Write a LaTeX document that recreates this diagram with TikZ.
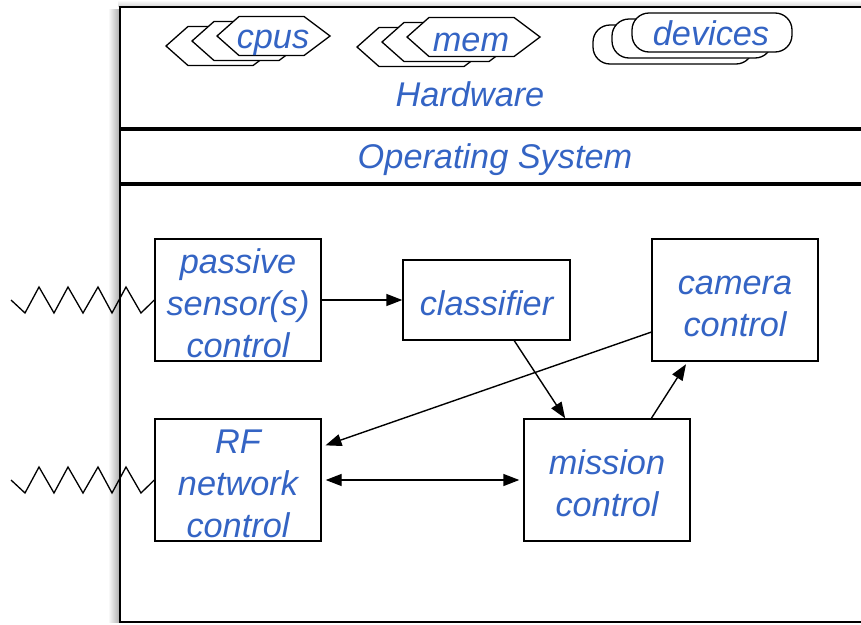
\documentclass[tikz,border=0pt]{standalone}
\usepackage{fontspec}
\setmainfont{Liberation Sans}
\usetikzlibrary{arrows.meta,calc}

\definecolor{labelblue}{RGB}{52,100,196}

% strut on the first line of a box label, so labels sit on the font's full ascent
\newcommand{\ls}{\rule{0pt}{0.9em}}

\tikzset{
  lbl/.style={text=labelblue, font=\fontsize{34.3}{42}\selectfont\itshape, inner sep=0pt},
  blk/.style={lbl, draw=black, line width=1.4pt, fill=white, align=center,
              minimum width=166pt, minimum height=122pt},
  tip/.tip={Triangle[length=16pt,width=12pt]},
  conn/.style={line width=1.4pt, -tip},
  biconn/.style={line width=1.4pt, tip-tip},
  wave/.style={line width=1.3pt, line join=miter},
  frameline/.style={line width=2pt},
  layerline/.style={line width=3.2pt},
  chip/.style={draw=black, fill=white, line width=1.3pt, line join=miter},
}

% elongated hexagon: left tip x, centre y, total width
\newcommand{\hexchip}[3]{%
  \filldraw[chip] (#1,#2) -- ++(22,-19.5) -- ++(#3-48,0) -- ++(26,19.5)
    -- ++(-26,19.5) -- ++(-#3+48,0) -- cycle;}

\begin{document}
\begin{tikzpicture}[x=1pt,y=-1pt]
  \useasboundingbox (0,0) rectangle (861,624);

  % soft shadow of the system frame
  \shade[left color=white, right color=black!30] (108,9) rectangle (119,622);
  \shade[top color=white, bottom color=black!15] (118,0) rectangle (861,6);

  % system frame and layers
  \draw[frameline] (861,7) -- (120,7) -- (120,622) -- (861,622);
  \draw[layerline] (120,129) -- (861,129);
  \draw[layerline] (120,184) -- (861,184);

  % hardware resources
  \hexchip{166}{46}{113}
  \hexchip{192}{41}{113}
  \hexchip{217}{36}{113}
  \node[lbl, anchor=base] (cpus) at (273,48) {cpus};

  \hexchip{357}{47}{133}
  \hexchip{382}{42}{133}
  \hexchip{407}{37}{133}
  \node[lbl, anchor=base] (mem) at (471,51) {mem};

  \filldraw[chip, rounded corners=17pt] (593,25) rectangle (753,64);
  \filldraw[chip, rounded corners=17pt] (612,19) rectangle (772,58);
  \filldraw[chip, rounded corners=17pt] (632,13) rectangle (792,52);
  \node[lbl, anchor=base] (devices) at (711,45) {devices};

  \node[lbl, anchor=base] (hw) at (470,106) {Hardware};
  \node[lbl, anchor=base] (os) at (495,168) {Operating System};

  % application components
  \node[blk] (passive) at (238,300) {\ls passive\\sensor(s)\\control};
  \node[blk, minimum width=167pt, minimum height=80pt] (classifier) at (486.5,300) {\ls classifier};
  \node[blk] (camera) at (735,300) {\ls camera\\control};
  \node[blk] (rf) at (238,480) {\ls RF\\network\\control};
  \node[blk] (mission) at (607,480) {\ls mission\\control};

  % connections
  \draw[conn] (passive) -- (classifier);
  \draw[conn] ($(classifier.south west)!0.665!(classifier.south east)$)
           -- ($(mission.north west)!0.25!(mission.north east)$);
  \draw[conn, shorten >=3pt] ($(mission.north west)!0.765!(mission.north east)$)
           -- ($(camera.south west)!0.217!(camera.south east)$);
  \draw[conn, shorten >=4pt] ($(camera.north west)!0.76!(camera.south west)$)
           -- ($(rf.north east)!0.23!(rf.south east)$);
  \draw[biconn, shorten >=4pt, shorten <=4pt] (rf) -- (mission);

  % external links
  \coordinate (sensorlink) at (11,300);
  \coordinate (radiolink) at (11,480);
  \draw[wave] (sensorlink) -- ++(14,13) -- ++(14,-26) -- ++(15,26) -- ++(14,-26)
    -- ++(15,26) -- ++(15,-26) -- ++(14,26) -- ++(14,-26) -- ++(15,26) -- (passive.west);
  \draw[wave] (radiolink) -- ++(14,13) -- ++(14,-26) -- ++(15,26) -- ++(14,-26)
    -- ++(15,26) -- ++(15,-26) -- ++(14,26) -- ++(14,-26) -- ++(15,26) -- (rf.west);
\end{tikzpicture}
\end{document}
